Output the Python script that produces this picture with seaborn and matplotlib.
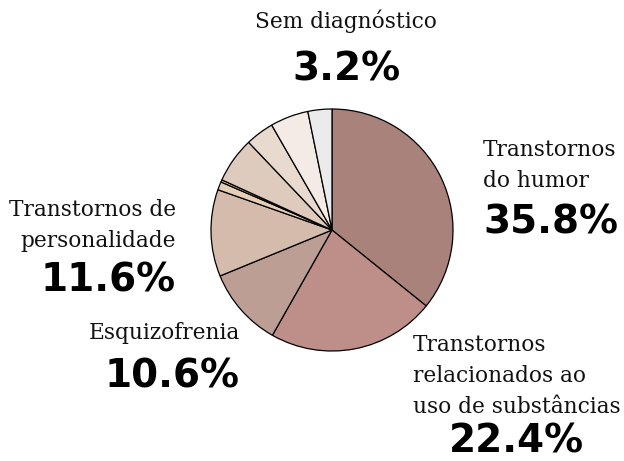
import matplotlib
matplotlib.use("Agg")
import matplotlib.pyplot as plt
import seaborn as sns

# shares (%) clockwise from 12 o'clock
shares = [35.8, 22.4, 10.6, 11.6, 1.1, 0.3, 6.1, 3.8, 5.1, 3.2]
colours = ["#a8827b", "#be8f89", "#bd9e94", "#d5bbab", "#e6cdb5",
           "#d8c0ae", "#dfcbbd", "#e9dad0", "#f4ebe6", "#ebebeb"]

# labelled groups: (text, percent)
labels = [
    ("Sem diagnóstico", "3.2%"),
    ("Transtornos\ndo humor", "35.8%"),
    ("Transtornos de\npersonalidade", "11.6%"),
    ("Esquizofrenia", "10.6%"),
    ("Transtornos\nrelacionados ao\nuso de substâncias", "22.4%"),
]

sns.set_theme(style="white")
plt.rcParams["font.family"] = ["DejaVu Serif"]

W, H = 624, 461
fig = plt.figure(figsize=(W / 100, H / 100), dpi=100)
ax = fig.add_axes([0, 0, 1, 1])

ax.pie(shares, colors=sns.color_palette(colours), startangle=90,
       counterclock=False, center=(332, H - 230), radius=121,
       wedgeprops=dict(edgecolor="black", linewidth=0.9))
ax.set_xlim(0, W)
ax.set_ylim(0, H)
ax.axis("off")

serif = dict(family="DejaVu Serif", fontsize=15.6, color="#111111", linespacing=1.52)
bold = dict(family="DejaVu Sans", fontsize=28, fontweight="bold", color="black")

# (label x, label top, label align, percent x, percent centre, percent align)
spots = [
    (346, 10, "center", 346, 70, "center"),
    (483, 139, "left", 483, 222, "left"),
    (176, 199, "right", 176, 281, "right"),
    (240, 322, "right", 240, 376, "right"),
    (413, 334, "left", 516, 441, "center"),
]

for (txt, pct), (lx, ly, lha, px, py, pha) in zip(labels, spots):
    ax.text(lx, H - ly, txt, ha=lha, va="top", multialignment=lha, **serif)
    ax.text(px, H - py, pct, ha=pha, va="center", **bold)

fig.savefig("out.png", dpi=100)
